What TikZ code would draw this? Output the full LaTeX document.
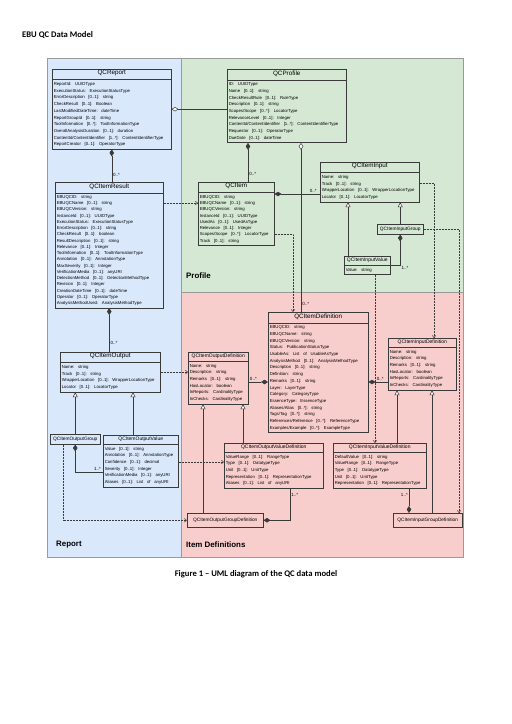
\documentclass[tikz,border=0pt]{standalone}
\usepackage{fontspec}
\setmainfont{Liberation Sans}
\newfontfamily\capfont{Carlito}
\usetikzlibrary{arrows.meta,shapes.multipart}
\definecolor{reportbg}{HTML}{DAE8FC}
\definecolor{profilebg}{HTML}{D5E8D4}
\definecolor{itemdefbg}{HTML}{F8CECC}
\definecolor{framegray}{HTML}{9A9A9A}
\definecolor{umlline}{HTML}{3A3A3A}
\newlength\clswd
\newcommand\clsname[1]{\makebox[\clswd]{\fontsize{6.3}{7}\selectfont\rule[-3.5pt]{0pt}{7.5pt}#1}}
\newcommand\smallcls[1]{\makebox[\clswd]{\fontsize{5}{6}\selectfont\rule[-2.5pt]{0pt}{6.5pt}#1}}
\newcommand\attrs[2][6.7]{\makebox[\clswd][l]{\fontsize{4.3}{#1}\selectfont\frenchspacing\spaceskip=0.85em\relax
  \begin{tabular}{@{}l@{}}#2\end{tabular}}}
\begin{document}
\begin{tikzpicture}[x=1pt, y=-1pt,
classnode/.style={rectangle split, rectangle split parts=2, draw=umlline, line width=0.5pt, inner xsep=1.5pt, inner ysep=1pt, anchor=north west, /utils/exec={\setlength\clswd{#1}}},
groupnode/.style={draw=umlline, line width=0.5pt, minimum width=#1, minimum height=10pt, inner sep=0pt, anchor=north west, font=\fontsize{4.8}{5}\selectfont},
conn/.style={draw=umlline, line width=0.5pt},
fdiam/.style={conn, {Diamond[length=7pt,width=4.5pt]}-},
odiam/.style={conn, {Diamond[open,fill=white,length=7pt,width=4.5pt]}-},
gen/.style={conn, -{Triangle[open,fill=white,length=5pt,width=5pt]}},
dep/.style={conn, densely dotted, -{Straight Barb[length=2.2pt,width=3.6pt]}},
mult/.style={font=\fontsize{4.5}{5}\selectfont, inner sep=1pt},
regionlabel/.style={font=\fontsize{7.9}{9}\selectfont\bfseries, anchor=west, inner sep=0pt},
]
\useasboundingbox (0,0) rectangle (512,724);
%Regions
\filldraw[fill=reportbg, draw=framegray, line width=0.6pt] (47,58) rectangle (181,557);
\filldraw[fill=profilebg, draw=framegray, line width=0.6pt] (181,58) rectangle (463,292);
\filldraw[fill=itemdefbg, draw=framegray, line width=0.6pt] (181,292) rectangle (463,557);
\node[regionlabel] at (186,276) (lblprofile) {Profile};
\node[regionlabel] at (56,545) (lblreport) {Report};
\node[regionlabel] at (186,545) (lblitemdef) {Item Definitions};
\node[anchor=west, inner sep=0pt, font=\capfont\fontsize{8.6}{10}\selectfont\bfseries] at (22,35) (title) {EBU QC Data Model};
\node[inner sep=0pt, font=\capfont\fontsize{8.6}{10}\selectfont\bfseries] at (256,574) (caption) {Figure 1 – UML diagram of the QC data model};
%Nodes
\node[classnode=116pt] at (52,69) (report) {\clsname{QCReport}\nodepart{two}\attrs{%
ReportId: UUIDType\\
ExecutionStatus: ExecutionStatusType\\
ErrorDescription [0..1]: string\\
CheckResult [0..1]: Boolean\\
LastModifiedDateTime: dateTime\\
ReportGroupId [0..1]: string\\
ToolInformation [0..*]: ToolInformationType\\
OverallAnalysisDuration [0..1]: duration\\
ContentId/ContentIdentifier [1..*]: ContentIdentifierType\\
ReportCreator [0..1]: OperatorType}};
\node[classnode=116pt] at (227,69) (profile) {\clsname{QCProfile}\nodepart{two}\attrs{%
ID: UUIDType\\
Name [0..1]: string\\
CheckResultRule [0..1]: RuleType\\
Description [0..1]: string\\
Scopes/Scope [0..*]: LocatorType\\
RelevanceLevel [0..1]: Integer\\
ContentId/ContentIdentifier [1..*]: ContentIdentifierType\\
Requestor [0..1]: OperatorType\\
DueDate [0..1]: dateTime}};
\node[classnode=105pt] at (55,182) (result) {\clsname{QCItemResult}\nodepart{two}\attrs[6.25]{%
EBUQCID: string\\
EBUQCName [0..1]: string\\
EBUQCVersion: string\\
InstanceId [0..1]: UUIDType\\
ExecutionStatus: ExecutionStatusType\\
ErrorDescription [0..1]: string\\
CheckResult [0..1]: boolean\\
ResultDescription [0..1]: string\\
Relevance [0..1]: Integer\\
ToolInformation [0..1]: ToolInformationType\\
Annotation [0..1]: AnnotationType\\
MaxSeverity [0..1]: Integer\\
VerificationMedia [0..1]: anyURI\\
DetectionMethod [0..1]: DetectionMethodType\\
Revision [0..1]: Integer\\
CreationDateTime [0..1]: dateTime\\
Operator [0..1]: OperatorType\\
AnalysisMethodUsed: AnalysisMethodType}};
\node[classnode=73pt] at (198,182) (item) {\clsname{QCItem}\nodepart{two}\attrs[6.25]{%
EBUQCID: string\\
EBUQCName [0..1]: string\\
EBUQCVersion: string\\
InstanceId [0..1]: UUIDType\\
UsedAs [0..1]: UsedAsType\\
Relevance [0..1]: Integer\\
Scopes/Scope [0..*]: LocatorType\\
Track [0..1]: string}};
\node[classnode=96pt] at (320,162) (input) {\clsname{QCItemInput}\nodepart{two}\attrs{%
Name: string\\
Track [0..1]: string\\
WrapperLocation [0..1]: WrapperLocationType\\
Locator [0..1]: LocatorType}};
\node[groupnode=46pt] at (377,224) (inputgroup) {QCItemInputGroup};
\node[classnode=43pt] at (344,256) (inputvalue) {\smallcls{QCItemInputValue}\nodepart{two}\attrs{%
Value: string}};
\node[classnode=97pt] at (268,312) (itemdef) {\clsname{QCItemDefinition}\nodepart{two}\attrs{%
EBUQCID: string\\
EBUQCName: string\\
EBUQCVersion: string\\
Status: PublicationStatusType\\
UsableAs: List of UsableAsType\\
AnalysisMethod [0..1]: AnalysisMethodType\\
Description [0..1]: string\\
Definition: string\\
Remarks [0..1]: string\\
Layer: LayerType\\
Category: CategoryType\\
EssenceType: EssenceType\\
Aliases/Alias [0..*]: string\\
Tags/Tag [0..*]: string\\
References/Reference [0..*]: ReferenceType\\
Examples/Example [0..*]: ExampleType}};
\node[classnode=57pt] at (188,352) (outputdef) {\smallcls{QCItemOutputDefinition}\nodepart{two}\attrs{%
Name: string\\
Description: string\\
Remarks [0..1]: string\\
HasLocator: boolean\\
InReports: CardinalityType\\
InChecks: CardinalityType}};
\node[classnode=65pt] at (388,338) (inputdef) {\smallcls{QCItemInputDefinition}\nodepart{two}\attrs{%
Name: string\\
Description: string\\
Remarks [0..1]: string\\
HasLocator: boolean\\
InReports: CardinalityType\\
InChecks: CardinalityType}};
\node[classnode=97pt] at (60,352) (output) {\clsname{QCItemOutput}\nodepart{two}\attrs{%
Name: string\\
Track [0..1]: string\\
WrapperLocation [0..1]: WrapperLocationType\\
Locator [0..1]: LocatorType}};
\node[groupnode=50pt] at (50,434) (outputgroup) {QCItemOutputGroup};
\node[classnode=72pt] at (103,435) (outputvalue) {\smallcls{QCItemOutputValue}\nodepart{two}\attrs{%
Value [0..1]: string\\
Annotation [0..1]: AnnotationType\\
Confidence [0..1]: decimal\\
Severity [0..1]: Integer\\
VerificationMedia [0..1]: anyURI\\
Aliases [0..1]: List of anyURI}};
\node[classnode=96pt] at (224,443) (outputvaluedef) {\smallcls{QCItemOutputValueDefinition}\nodepart{two}\attrs{%
ValueRange [0..1]: RangeType\\
Type [0..1]: DatatypeType\\
Unit [0..1]: UnitType\\
Representation [0..1]: RepresentationType\\
Aliases [0..1]: List of anyURI}};
\node[classnode=90pt] at (333,443) (inputvaluedef) {\smallcls{QCItemInputValueDefinition}\nodepart{two}\attrs{%
DefaultValue [0..1]: string\\
ValueRange [0..1]: RangeType\\
Type [0..1]: DatatypeType\\
Unit [0..1]: UnitType\\
Representation [0..1]: RepresentationType}};
\node[groupnode=76pt, minimum height=14pt] at (187,513) (outputgroupdef) {QCItemOutputGroupDefinition};
\node[groupnode=69pt, minimum height=14pt] at (393,513) (inputgroupdef) {QCItemInputGroupDefinition};
%Points on the edges
\coordinate (pi) at ([xshift=21pt]profile.south west);
\coordinate (pd) at ([xshift=74pt]profile.south west);
\coordinate (ii) at ([yshift=-12pt]item.north east);
\coordinate (rd) at ([yshift=-21pt]result.north east);
\coordinate (id) at ([yshift=-52pt]item.north east);
\coordinate (it) at ([xshift=25pt]itemdef.north west);
\coordinate (ir) at ([yshift=-21pt]input.north east);
\coordinate (idt) at ([xshift=46pt]inputdef.north west);
\coordinate (igd) at ([xshift=66pt]inputgroupdef.north west);
\coordinate (iv) at ([xshift=4pt]inputvalue.north west);
\coordinate (ivb) at ([xshift=31pt]inputvalue.south west);
\coordinate (dl) at ([yshift=-70pt]itemdef.north west);
\coordinate (dr) at ([yshift=-70pt]itemdef.north east);
\coordinate (ov) at ([xshift=30pt]outputvalue.north west);
\coordinate (ovl) at ([yshift=-37pt]outputvalue.north west);
\coordinate (ovr) at ([yshift=-27pt]outputvalue.north east);
\coordinate (ogd) at ([xshift=13pt]outputgroup.south west);
\coordinate (odg) at ([xshift=15pt]outputdef.south west);
\coordinate (odv) at ([xshift=55pt]outputdef.south west);
\coordinate (ovd) at ([xshift=66pt]outputvaluedef.south west);
\coordinate (idv) at ([xshift=9pt]inputdef.south west);
\coordinate (idg) at ([xshift=44pt]inputdef.south west);
\coordinate (ivd) at ([xshift=76pt]inputvaluedef.south west);
%Lines
\draw[odiam] (report.east) -- (report.east -| profile.west);
\draw[fdiam] (report.south) -- (report.south |- result.north) node[mult, pos=0.78, anchor=west] {0..*};
\draw[fdiam] (pi) -- (pi |- item.north) node[mult, pos=0.8, anchor=west] {0..*};
\draw[odiam] (pd) -- (pd |- itemdef.north) node[mult, pos=0.95, anchor=west] {0..*};
\draw[fdiam] (ii) -- (ii -| input.west) node[mult, pos=0.85, anchor=south] {0..*};
\draw[dep] (rd) -- (rd -| item.west);
\draw[dep] (id) -| (it);
\draw[gen] (iv) -- (iv |- input.south);
\draw[gen] (inputgroup.north) -- (inputgroup.north |- input.south);
\draw[fdiam] (inputgroup.south) |- (inputvalue.east) node[mult, pos=0.5, anchor=north west] {1..*};
\draw[dep] (ir) -| (idt);
\draw[dep] (inputgroup.east) -| (igd);
\draw[dep] (ivb) -- (ivb |- inputvaluedef.north);
\draw[fdiam] (result.south) -- (result.south |- output.north) node[mult, pos=0.8, anchor=west] {0..*};
\draw[fdiam] (dl) -- (dl -| outputdef.east) node[mult, pos=0.75, anchor=south] {0..*};
\draw[fdiam] (dr) -- (dr -| inputdef.west) node[mult, pos=0.6, anchor=south] {0..*};
\draw[dep] (output.east) -- (output.east -| outputdef.west);
\draw[gen] (outputgroup.north) -- (outputgroup.north |- output.south);
\draw[gen] (ov) -- (ov |- output.south);
\draw[fdiam] (outputgroup.south) |- (ovl) node[mult, pos=0.9, anchor=south] {1..*};
\draw[dep] (ogd) |- (outputgroupdef.west);
\draw[dep] (ovr) -- (ovr -| outputvaluedef.west);
\draw[gen] (odg |- outputgroupdef.north) -- (odg);
\draw[gen] (odv |- outputvaluedef.north) -- (odv);
\draw[fdiam] (outputgroupdef.east) -| (ovd) node[mult, pos=0.9, anchor=west] {1..*};
\draw[gen] (idv |- inputvaluedef.north) -- (idv);
\draw[gen] (idg |- inputgroupdef.north) -- (idg);
\draw[fdiam] (ivd |- inputgroupdef.north) -- (ivd) node[mult, pos=0.75, anchor=east] {1..*};
\end{tikzpicture}
\end{document}
